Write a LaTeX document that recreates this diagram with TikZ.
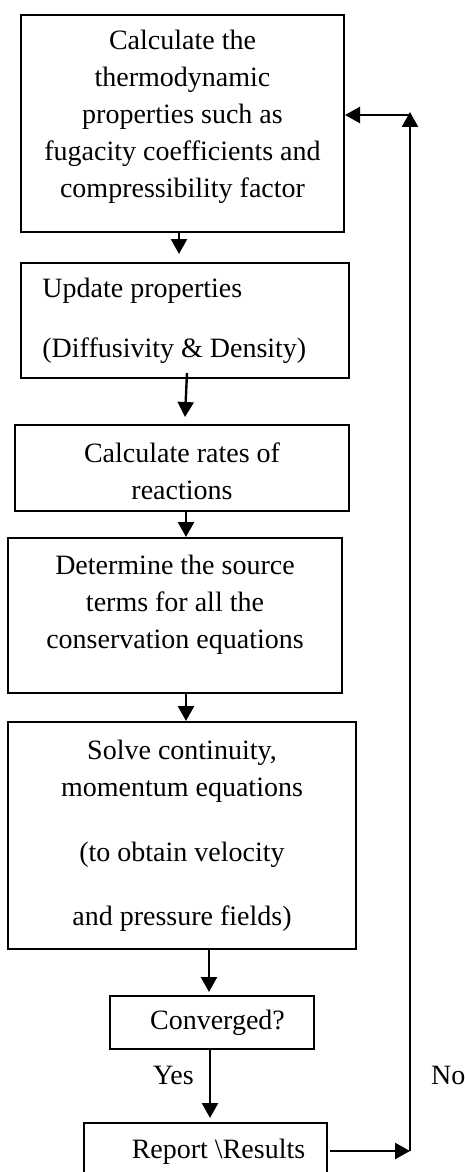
\documentclass[tikz,border=0pt]{standalone}
\usepackage{fontspec}
\setmainfont{Liberation Serif}
\usetikzlibrary{arrows.meta}
\begin{document}
\begin{tikzpicture}[x=0.5pt,y=-0.5pt,
        caja/.style={draw,line width=1pt,inner sep=0pt},
        texto/.style={align=center,inner sep=0pt,font=\fontsize{14pt}{18.5pt}\selectfont},
        flecha/.style={line width=1.2pt,-{Triangle[length=7.5pt,width=8pt]}}]
        \useasboundingbox (0,0) rectangle (465,1172);
        \clip (0,0) rectangle (465,1172);

        % Cajas del diagrama
        \node[caja,minimum width=161.5pt,minimum height=108.5pt,
            label={[texto,yshift=3.25pt]center:{Calculate the\\thermodynamic\\properties such as\\fugacity coefficients and\\compressibility factor}}] (calc) at (182.5,123.5) {};
        \node[caja,minimum width=164pt,minimum height=57.5pt,
            label={[texto,align=left,anchor=west,xshift=11pt]west:{Update properties\\[11.5pt](Diffusivity \& Density)}}] (upd) at (185,320.5) {};
        \node[caja,minimum width=167pt,minimum height=43pt,
            label={[texto,yshift=-1.75pt]center:{Calculate rates of\\reactions}}] (rates) at (182,468) {};
        \node[caja,minimum width=167pt,minimum height=77.5pt,
            label={[texto,yshift=5.5pt]center:{Determine the source\\terms for all the\\conservation equations}}] (source) at (175,615.5) {};
        \node[caja,minimum width=174pt,minimum height=113.5pt,
            label={[texto]center:{Solve continuity,\\momentum equations\\[14pt](to obtain velocity\\[13.5pt]and pressure fields)}}] (solve) at (182,835.5) {};
        \node[caja,minimum width=102pt,minimum height=26.5pt,
            label={[texto,xshift=2.75pt]center:{Converged?}}] (conv) at (212,1022.5) {};
        \node[caja,minimum width=121.5pt,minimum height=29pt,
            label={[texto,xshift=6.5pt]center:{Report \textbackslash Results}}] (report) at (205.5,1152) {};

        % Esquinas del lazo de retorno
        \coordinate (esqinf) at (410,1151);
        \coordinate (esqsup) at (410,115);

        % Flechas entre cajas
        \draw[flecha] ([xshift=-1.75pt]calc.south) -- ([xshift=-3pt,yshift=4pt]upd.north);
        \draw[flecha] ([xshift=1pt,yshift=3pt]upd.south) -- ([xshift=1.5pt,yshift=3.5pt]rates.north);
        \draw[flecha] ([xshift=2pt]rates.south) -- ([xshift=5.5pt]source.north);
        \draw[flecha] ([xshift=5.5pt]source.south) -- ([xshift=2pt]solve.north);
        \draw[flecha] ([xshift=13.5pt]solve.south) -- ([xshift=-1.5pt,yshift=1.5pt]conv.north);
        \draw[flecha] ([xshift=-1pt]conv.south) -- ([xshift=2.25pt,yshift=2pt]report.north)
            node[texto,left=7.5pt,pos=.37] (yes) {Yes};

        % Lazo de retorno (No)
        \draw[flecha] ([xshift=1pt]report.east |- esqinf) -- (esqinf);
        \draw[flecha] (esqinf) -- ([yshift=1.5pt]esqsup)
            node[texto,right=10pt,pos=.073] (no) {No};
        \draw[flecha] (esqsup) -- (calc.east |- esqsup);
\end{tikzpicture}
\end{document}
